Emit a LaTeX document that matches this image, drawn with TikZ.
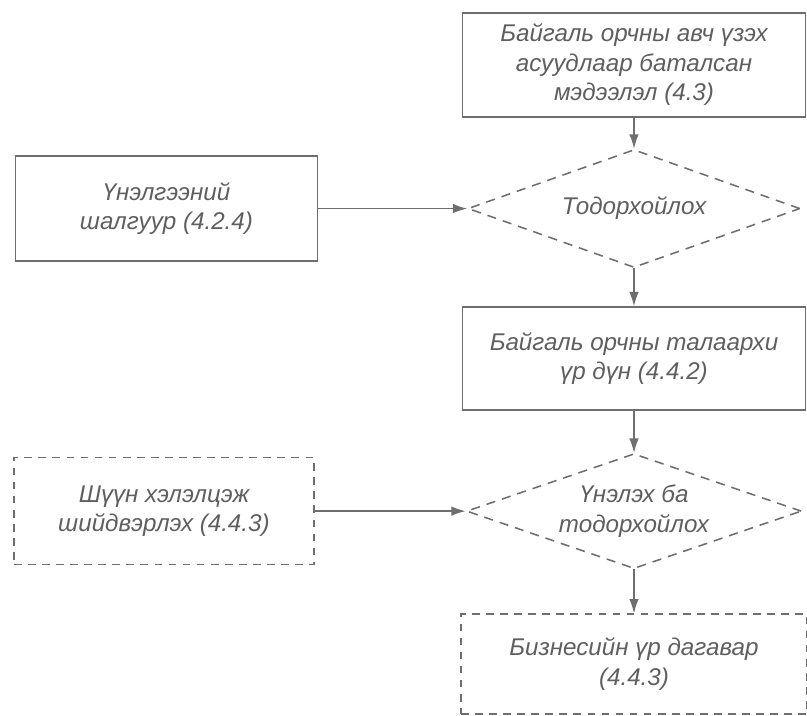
\documentclass[tikz,border=0pt]{standalone}
\usepackage{fontspec}
\setmainfont{Liberation Sans}
\usetikzlibrary{arrows.meta, positioning, shapes.geometric}
\definecolor{linec}{RGB}{110, 110, 110}
\definecolor{textc}{RGB}{95, 95, 95}

\begin{document}
\begin{tikzpicture}[
  box/.style={draw=linec, line width=1.1pt, minimum width=8.575cm, minimum height=2.6cm, align=center, text=textc, font=\fontsize{17.2}{21}\selectfont\itshape},
  dbox/.style={box, dash pattern=on 5.5pt off 4.5pt},
  cond/.style={diamond, shape aspect=2.8, draw=linec, line width=1.1pt, dash pattern=on 6.5pt off 5pt, align=center, text=textc, font=\fontsize{17.2}{21}\selectfont\itshape, minimum width=8.3cm, minimum height=2.95cm, inner sep=0pt},
  arr/.style={-{Latex[length=3.6mm, width=2.4mm]}, line width=1.1pt, linec}
]
\useasboundingbox (0,0) rectangle (20.175,-17.9);
\node[box] (info) at (15.85,-1.625) {Байгаль орчны авч үзэх\\асуудлаар баталсан\\мэдээлэл (4.3)};
\node[cond, below=0.775cm of info] (ident) {Тодорхойлох};
\node[box, minimum height=2.575cm, below=0.95cm of ident] (result) {Байгаль орчны талаархи\\үр дүн (4.4.2)};
\node[cond, minimum width=8.375cm, minimum height=2.875cm, below=1.05cm of result] (eval) {Үнэлэх ба\\тодорхойлох};
\node[dbox, minimum width=8.65cm, minimum height=2.5cm, below=1.1cm of eval] (biz) {Бизнесийн үр дагавар\\(4.4.3)};
\node[box, minimum width=7.55cm, minimum height=2.625cm, left=3.725cm of ident] (crit) {Үнэлгээний\\шалгуур (4.2.4)};
\node[dbox, minimum width=7.5cm, minimum height=2.675cm, left=3.775cm of eval] (alt) {Шүүн хэлэлцэж\\шийдвэрлэх (4.4.3)};
\draw[arr] (info) -- (ident);
\draw[arr] (ident) -- (result);
\draw[arr] (result) -- (eval);
\draw[arr] (eval) -- (biz);
\draw[arr] (crit) -- (ident);
\draw[arr] (alt) -- (eval);
\end{tikzpicture}
\end{document}
